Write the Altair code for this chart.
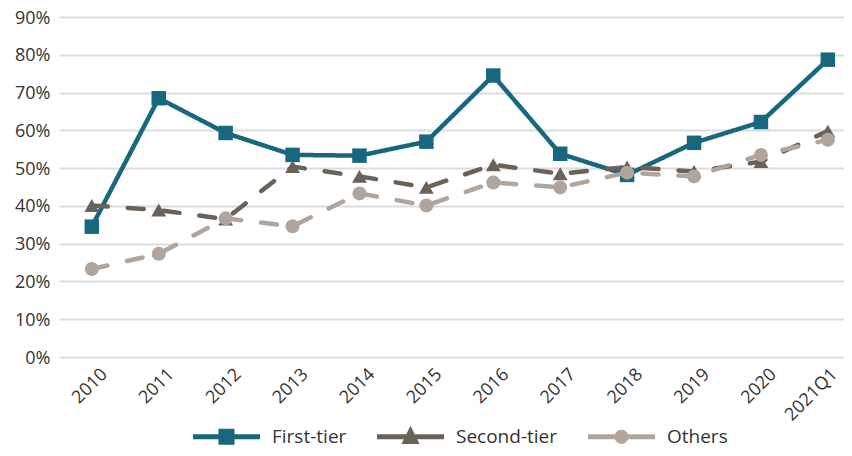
import altair as alt
import pandas as pd

periods = ["2010", "2011", "2012", "2013", "2014", "2015", "2016", "2017",
           "2018", "2019", "2020", "2021Q1"]
first_tier = [34.5, 68.5, 59.3, 53.5, 53.3, 57.0, 74.5, 53.8, 48.2, 56.7, 62.2, 78.7]
second_tier = [40.1, 38.9, 36.5, 50.4, 47.8, 44.9, 50.9, 48.5, 50.3, 49.1, 51.7, 59.8]
others = [23.3, 27.3, 36.7, 34.6, 43.3, 40.1, 46.2, 44.9, 48.8, 47.8, 53.5, 57.5]

series_names = ["First-tier", "Second-tier", "Others"]
series_values = [first_tier, second_tier, others]
colors = ["#17687f", "#6a6158", "#b0a49b"]
dashes = [[1, 0], [16, 20], [16, 20]]
caps = ["butt", "round", "round"]
shapes = ["square", "triangle-up", "circle"]
sizes = [210, 220, 196]

legend_paths = [
    "M-1,-0.075H1V0.075H-1Z M-0.24,-0.24H0.24V0.24H-0.24Z",
    "M-1,-0.075H1V0.075H-1Z M0,-0.33L0.27,0.22L-0.27,0.22Z",
    "M-1,-0.075H1V0.075H-1Z M-0.21,0A0.21,0.21 0 1,1 0.21,0A0.21,0.21 0 1,1 -0.21,0Z",
]

rows = []
for name, vals in zip(series_names, series_values):
    for p, v in zip(periods, vals):
        rows.append({"period": p, "series": name, "value": v / 100.0})
df = pd.DataFrame(rows)

FONT = "Open Sans"
TXT = "#333333"

x_enc = alt.X(
    "period:N",
    sort=periods,
    scale=alt.Scale(type="point", padding=0.366, align=0.67),
    axis=alt.Axis(
        title=None, labelAngle=-45, labelFontSize=18, labelFont=FONT,
        labelColor=TXT, ticks=False, domain=False, grid=False,
        labelPadding=8,
        labelOffset={"condition": {"test": "datum.value === '2021Q1'", "value": 0}, "value": 6},
    ),
)
y_enc = alt.Y(
    "value:Q",
    scale=alt.Scale(domain=[0, 0.9], nice=False, zero=True),
    axis=alt.Axis(
        title=None, format=".0%", values=[i / 10 for i in range(10)],
        labelFontSize=18, labelFont=FONT, labelColor=TXT,
        ticks=False, domain=False, grid=True, gridColor="#dcdcdc",
        gridWidth=2, labelPadding=9, labelOffset=1,
    ),
)

base = alt.Chart(df)
layers = []
for name, col, dash, cap, shp, sz in zip(series_names, colors, dashes, caps, shapes, sizes):
    sub = base.transform_filter(alt.datum.series == name)
    layers.append(
        sub.mark_line(strokeWidth=4.5, color=col, strokeDash=dash, strokeCap=cap).encode(x=x_enc, y=y_enc)
    )
    layers.append(
        sub.mark_point(shape=shp, size=sz, filled=True, opacity=1, color=col).encode(x=x_enc, y=y_enc)
    )

# legend-only layer: no rows drawn, the legend comes from the explicit scale domain
legend_layer = base.transform_filter("false").mark_point(filled=True, opacity=1).encode(
    x=x_enc,
    y=y_enc,
    color=alt.Color(
        "series:N",
        scale=alt.Scale(domain=series_names, range=colors),
        legend=alt.Legend(
            title=None, orient="none", direction="horizontal",
            legendX=134, legendY=386,
            labelFontSize=19, labelFont=FONT, labelColor=TXT,
            symbolSize=4489, symbolOpacity=1, symbolStrokeWidth=0,
            labelOffset=12, columnPadding=30,
        ),
    ),
    shape=alt.Shape(
        "series:N",
        scale=alt.Scale(domain=series_names, range=legend_paths),
    ),
)

chart = alt.layer(*layers, legend_layer).properties(
    width=785,
    height=340,
    padding={"left": 51, "top": 9, "right": 0, "bottom": 91},
    autosize=alt.AutoSizeParams(type="none"),
    background="white",
).configure_view(stroke=None)

chart.save("out.html", embed_options={"renderer": "svg", "actions": False})
